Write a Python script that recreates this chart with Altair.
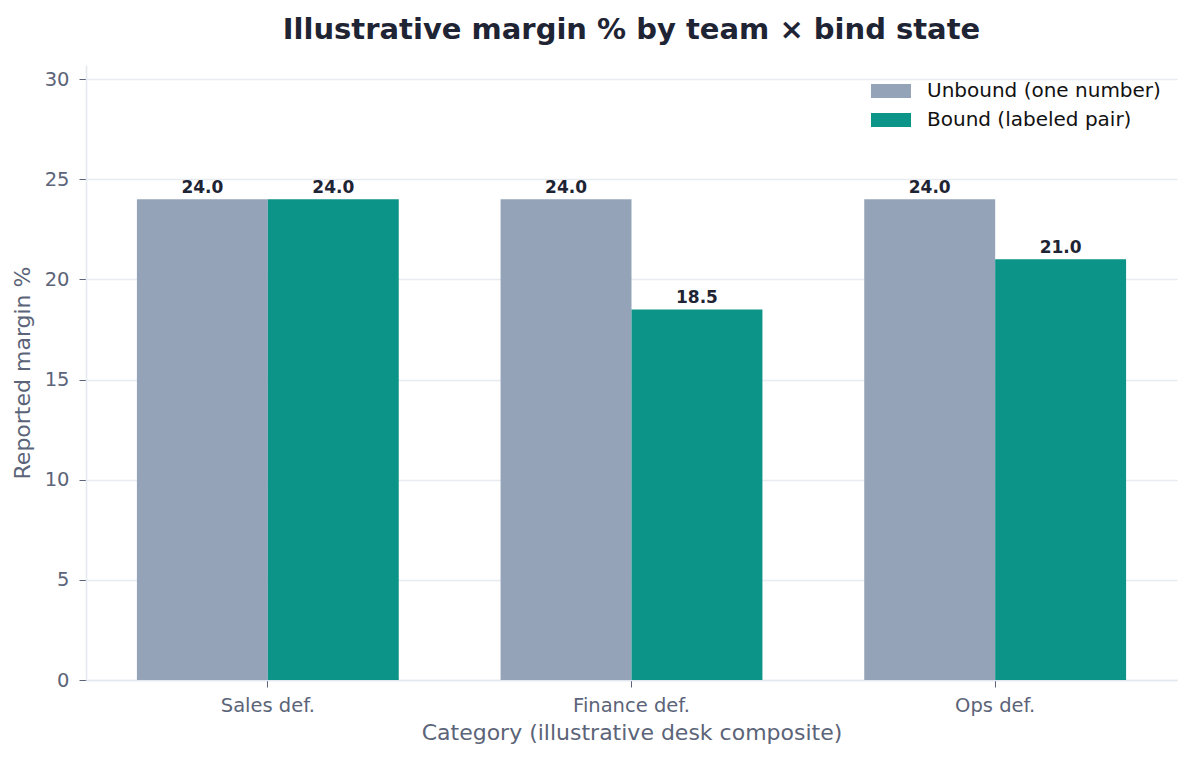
import altair as alt
import pandas as pd

categories = ["Sales def.", "Finance def.", "Ops def."]
unbound = [24.0, 24.0, 24.0]
bound = [24.0, 18.5, 21.0]
series = ["Unbound (one number)", "Bound (labeled pair)"]
colors = ["#94a3b8", "#0d9488"]
y_ticks = [0, 5, 10, 15, 20, 25, 30]

rows = []
for c, u, b in zip(categories, unbound, bound):
    rows.append({"category": c, "series": series[0], "value": u})
    rows.append({"category": c, "series": series[1], "value": b})
df = pd.DataFrame(rows)

FONT = "DejaVu Sans"
GRAY = "#5b6478"

x = alt.X(
    "category:N",
    sort=categories,
    scale=alt.Scale(paddingInner=0.28, paddingOuter=0.14),
    axis=alt.Axis(
        title="Category (illustrative desk composite)",
        labelAngle=0,
        labelFontSize=19.5,
        labelColor=GRAY,
        titleFontSize=22,
        titleColor=GRAY,
        titleFontWeight="normal",
        titlePadding=8,
        labelPadding=9,
        domainColor="#e2e8f0",
        domainWidth=1.5,
        tickColor=GRAY,
        tickSize=7,
        grid=False,
    ),
)
xoff = alt.XOffset("series:N", sort=series, scale=alt.Scale(paddingInner=0, paddingOuter=0))
y = alt.Y(
    "value:Q",
    scale=alt.Scale(domain=[0, 30.7], nice=False),
    axis=alt.Axis(
        values=y_ticks,
        title="Reported margin %",
        labelFontSize=19.5,
        labelColor=GRAY,
        titleFontSize=22,
        titleColor=GRAY,
        titleFontWeight="normal",
        titlePadding=10,
        labelPadding=10,
        domainColor="#e2e8f0",
        domainWidth=1.5,
        tickColor=GRAY,
        tickSize=7,
        grid=True,
        gridColor="#e8ebf0",
        gridWidth=1.5,
    ),
)
color = alt.Color(
    "series:N",
    sort=series,
    scale=alt.Scale(domain=series, range=colors),
    legend=alt.Legend(
        title=None,
        orient="top-right",
        labelFontSize=20,
        labelColor="#111111",
        labelFont=FONT,
        labelLimit=0,
        symbolType="M-2,-0.7L2,-0.7L2,0.7L-2,0.7Z",
        symbolSize=400,
        symbolStrokeWidth=0,
        symbolOpacity=1,
        rowPadding=9,
        labelOffset=26,
        offset=16,
    ),
)

bars = alt.Chart(df).mark_bar().encode(x=x, xOffset=xoff, y=y, color=color)
labels = alt.Chart(df).mark_text(
    baseline="bottom", dy=-2, fontSize=17, fontWeight="bold", color="#1e2433", font=FONT
).encode(
    x=alt.X("category:N", sort=categories),
    xOffset=alt.XOffset("series:N", sort=series),
    y=alt.Y("value:Q"),
    text=alt.Text("value:Q", format=".1f"),
)

chart = (
    alt.layer(bars, labels)
    .properties(
        width=1091,
        height=615,
        title=alt.TitleParams(
            "Illustrative margin % by team × bind state",
            fontSize=29,
            fontWeight="bold",
            color="#1e2433",
            font=FONT,
            anchor="middle",
            offset=20,
        ),
        padding={"left": 3, "top": 8, "right": 8, "bottom": 5},
    )
    .configure(font=FONT)
    .configure_view(stroke=None)
)

chart.save("out.html", embed_options={"renderer": "svg", "actions": False})
